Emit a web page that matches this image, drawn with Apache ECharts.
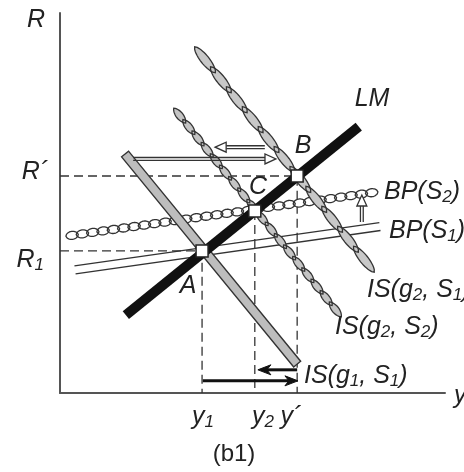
<!DOCTYPE html>
<html>
<head>
<meta charset="utf-8">
<script src="https://cdn.jsdelivr.net/npm/echarts@6/dist/echarts.min.js"></script>
<style>
  html, body { margin: 0; padding: 0; background: #fff; }
  #chart { width: 464px; height: 472px; }
</style>
</head>
<body>
<div id="chart"></div>
<script>
// Equilibrium points: output y and interest rate R
const pointNames = ['A', 'B', 'C'];
const pointY = [36.9, 61.6, 50.6];
const pointR = [37.4, 57.1, 47.9];

// Schedules, each given by its two end points [y, R]
const lmLine = [[17.1, 20.5], [77.6, 70.1]];
const isG1S1 = [[16.9, 62.9], [61.6, 7.6]];
const isG2S1 = [[35.6, 90.3], [81.0, 32.6]];
const isG2S2 = [[29.9, 74.5], [72.7, 20.5]];
const bpS1 = [[3.9, 32.4], [83.1, 43.8]];
const bpS2 = [[1.8, 41.3], [82.3, 52.9]];

// Shift arrows [from, to]
const hollowArrows = [
  [[53.2, 64.7], [40.3, 64.7]],
  [[19.0, 61.6], [56.1, 61.6]],
  [[78.4, 45.0], [78.4, 52.1]]
];
const solidArrows = [
  [[37.1, 3.2], [61.8, 3.2]],
  [[61.6, 6.1], [51.4, 6.1]]
];

const FONT = '"Liberation Sans", Arial, Helvetica, sans-serif';
const INK = '#222';

function segRow(seg) { return [seg[0][0], seg[0][1], seg[1][0], seg[1][1]]; }

function ends(api) {
  const p0 = api.coord([api.value(0), api.value(1)]);
  const p1 = api.coord([api.value(2), api.value(3)]);
  const dx = p1[0] - p0[0], dy = p1[1] - p0[1];
  const L = Math.hypot(dx, dy);
  const ux = dx / L, uy = dy / L;
  return { p0, p1, L, ux, uy, vx: -uy, vy: ux };
}

// Straight band with an outline (IS, LM)
function bandSeries(name, seg, width, fill, stroke, z) {
  return {
    type: 'custom', name, z, silent: true,
    data: [segRow(seg)],
    renderItem(params, api) {
      const e = ends(api);
      const h = width / 2;
      const pts = [
        [e.p0[0] + e.vx * h, e.p0[1] + e.vy * h],
        [e.p1[0] + e.vx * h, e.p1[1] + e.vy * h],
        [e.p1[0] - e.vx * h, e.p1[1] - e.vy * h],
        [e.p0[0] - e.vx * h, e.p0[1] - e.vy * h]
      ];
      return { type: 'polygon', shape: { points: pts },
        style: { fill, stroke: stroke || null, lineWidth: stroke ? 1.4 : 0 } };
    }
  };
}

// Chain of overlapping links along a segment; each link has a
// half-width profile ry * (1 - s^2)^q  (q = 0.5 gives an ellipse, 1 a pointed lens)
function chainSeries(name, seg, link, width, stretch, q, fill, stroke, z) {
  return {
    type: 'custom', name, z, silent: true,
    data: [segRow(seg)],
    renderItem(params, api) {
      const e = ends(api);
      const n = Math.max(1, Math.round(e.L / link));
      const step = e.L / n;
      const rx = step * stretch / 2, ry = width / 2;
      const rings = [];
      const K = 16;
      for (let i = 0; i < n; i++) {
        const cx = e.p0[0] + e.ux * step * (i + 0.5);
        const cy = e.p0[1] + e.uy * step * (i + 0.5);
        const pts = [];
        for (let k = 0; k <= K; k++) {
          const s = -1 + 2 * k / K;
          const b = ry * Math.pow(Math.max(0, 1 - s * s), q);
          pts.push([cx + e.ux * s * rx + e.vx * b, cy + e.uy * s * rx + e.vy * b]);
        }
        for (let k = K - 1; k > 0; k--) {
          const s = -1 + 2 * k / K;
          const b = ry * Math.pow(Math.max(0, 1 - s * s), q);
          pts.push([cx + e.ux * s * rx - e.vx * b, cy + e.uy * s * rx - e.vy * b]);
        }
        rings.push(pts);
      }
      const children = [];
      rings.forEach(p => children.push({ type: 'polygon', shape: { points: p }, style: { fill, stroke: null } }));
      rings.forEach(p => children.push({ type: 'polygon', shape: { points: p }, style: { fill: 'none', stroke, lineWidth: 1.3 } }));
      return { type: 'group', children };
    }
  };
}

// Pair of thin parallel lines (BP(S1))
function doubleLineSeries(name, seg, gap, z) {
  return {
    type: 'custom', name, z, silent: true,
    data: [segRow(seg)],
    renderItem(params, api) {
      const e = ends(api);
      const h = gap / 2;
      const mk = s => ({ type: 'line',
        shape: { x1: e.p0[0] + e.vx * h * s, y1: e.p0[1] + e.vy * h * s,
                 x2: e.p1[0] + e.vx * h * s, y2: e.p1[1] + e.vy * h * s },
        style: { stroke: '#333', lineWidth: 1.4 } });
      return { type: 'group', children: [mk(1), mk(-1)] };
    }
  };
}

// Arrows with an open head and a double shaft
function hollowArrowSeries(z) {
  return {
    type: 'custom', name: 'shifts', z, silent: true,
    data: hollowArrows.map(segRow),
    renderItem(params, api) {
      const e = ends(api);
      const hl = 11, hw = 5, g = 1.4;
      const bx = e.p1[0] - e.ux * hl, by = e.p1[1] - e.uy * hl;
      const shaft = s => ({ type: 'line',
        shape: { x1: e.p0[0] + e.vx * g * s, y1: e.p0[1] + e.vy * g * s,
                 x2: bx + e.vx * g * s, y2: by + e.vy * g * s },
        style: { stroke: '#333', lineWidth: 1.3 } });
      const head = { type: 'polygon',
        shape: { points: [[e.p1[0], e.p1[1]], [bx + e.vx * hw, by + e.vy * hw], [bx - e.vx * hw, by - e.vy * hw]] },
        style: { fill: '#fff', stroke: '#333', lineWidth: 1.3 } };
      return { type: 'group', children: [shaft(1), shaft(-1), head] };
    }
  };
}

// Solid black arrows along the output axis
function solidArrowSeries(z) {
  return {
    type: 'custom', name: 'output', z, silent: true,
    data: solidArrows.map(segRow),
    renderItem(params, api) {
      const e = ends(api);
      const hl = 13, hw = 5, notch = 4;
      const bx = e.p1[0] - e.ux * hl, by = e.p1[1] - e.uy * hl;
      const nx = bx + e.ux * notch, ny = by + e.uy * notch;
      return { type: 'group', children: [
        { type: 'line', shape: { x1: e.p0[0], y1: e.p0[1], x2: nx, y2: ny },
          style: { stroke: '#111', lineWidth: 3 } },
        { type: 'polygon',
          shape: { points: [[e.p1[0], e.p1[1]], [bx + e.vx * hw, by + e.vy * hw], [nx, ny], [bx - e.vx * hw, by - e.vy * hw]] },
          style: { fill: '#111', stroke: '#111', lineWidth: 1 } }
      ] };
    }
  };
}

function guideSeries(data) {
  return {
    type: 'line', z: 1, silent: true, symbol: 'none', animation: false,
    data,
    lineStyle: { color: '#333', width: 1.3, type: [9, 5] }
  };
}

// Text helpers (italic with subscripts)
const rich = {
  m: { fontSize: 25, fontStyle: 'italic', fontFamily: FONT, lineHeight: 28, fill: INK, color: INK },
  s: { fontSize: 17, fontStyle: 'italic', fontFamily: FONT, lineHeight: 17, verticalAlign: 'bottom', fill: INK, color: INK },
  n: { fontSize: 24, fontStyle: 'normal', fontFamily: FONT, lineHeight: 28, fill: INK, color: INK }
};
function label(x, y, text, align) {
  return {
    type: 'text', x, y, silent: true, z: 100,
    style: {
      text, rich, x: 0, y: 0,
      align: align || 'center', textAlign: align || 'center',
      verticalAlign: 'middle', textVerticalAlign: 'middle',
      fill: INK, font: 'italic 25px ' + FONT
    }
  };
}

const chart = echarts.init(document.getElementById('chart'), null, { renderer: 'canvas' });

chart.setOption({
  animation: false,
  backgroundColor: '#fff',
  grid: { left: 60, top: 13, width: 385, height: 380 },
  xAxis: {
    type: 'value', min: 0, max: 100,
    axisLine: { show: true, lineStyle: { color: '#555', width: 2 } },
    axisTick: { show: false }, axisLabel: { show: false }, splitLine: { show: false }
  },
  yAxis: {
    type: 'value', min: 0, max: 100,
    axisLine: { show: true, lineStyle: { color: '#555', width: 2 } },
    axisTick: { show: false }, axisLabel: { show: false }, splitLine: { show: false }
  },
  series: [
    guideSeries([[0, pointR[0]], [pointY[0], pointR[0]], [pointY[0], 0]]),
    guideSeries([[0, pointR[1]], [pointY[1], pointR[1]], [pointY[1], 0]]),
    guideSeries([[pointY[2], pointR[2]], [pointY[2], 0]]),
    doubleLineSeries('BP(S1)', bpS1, 8, 2),
    chainSeries('BP(S2)', bpS2, 10.5, 8, 1.2, 0.6, '#fff', '#333', 3),
    chainSeries('IS(g2, S2)', isG2S2, 15, 7, 1.3, 0.8, '#c4c4c4', '#333', 4),
    chainSeries('IS(g2, S1)', isG2S1, 25, 8.5, 1.3, 0.65, '#c8c8c8', '#333', 5),
    bandSeries('IS(g1, S1)', isG1S1, 9, '#bdbdbd', '#333', 6),
    bandSeries('LM', lmLine, 10, '#111', null, 7),
    hollowArrowSeries(8),
    solidArrowSeries(8),
    {
      type: 'scatter', name: 'equilibria', z: 9, silent: true,
      symbol: 'rect', symbolSize: 12,
      data: pointY.map((y, i) => [y, pointR[i]]),
      itemStyle: { color: '#fff', borderColor: '#222', borderWidth: 1.5, opacity: 1 }
    }
  ],
  graphic: [
    label(36, 20, '{m|R}'),
    label(35, 172, '{m|R\u00B4}'),
    label(44, 260, '{m|R}{s|1}', 'right'),
    label(188, 286, '{m|' + pointNames[0] + '}'),
    label(303, 146, '{m|' + pointNames[1] + '}'),
    label(258, 187, '{m|' + pointNames[2] + '}'),
    label(372, 99, '{m|LM}'),
    label(384, 192, '{m|BP(S}{s|2}{m|)}', 'left'),
    label(389, 231, '{m|BP(S}{s|1}{m|)}', 'left'),
    label(367, 290, '{m|IS(g}{s|2}{m|, S}{s|1}{m|)}', 'left'),
    label(335, 327, '{m|IS(g}{s|2}{m|, S}{s|2}{m|)}', 'left'),
    label(304, 376, '{m|IS(g}{s|1}{m|, S}{s|1}{m|)}', 'left'),
    label(203, 417, '{m|y}{s|1}'),
    label(263, 417, '{m|y}{s|2}'),
    label(291, 417, '{m|y\u00B4}'),
    label(454, 396, '{m|y}', 'left'),
    label(234, 454, '{n|(b1)}')
  ]
});
</script>
</body>
</html>
